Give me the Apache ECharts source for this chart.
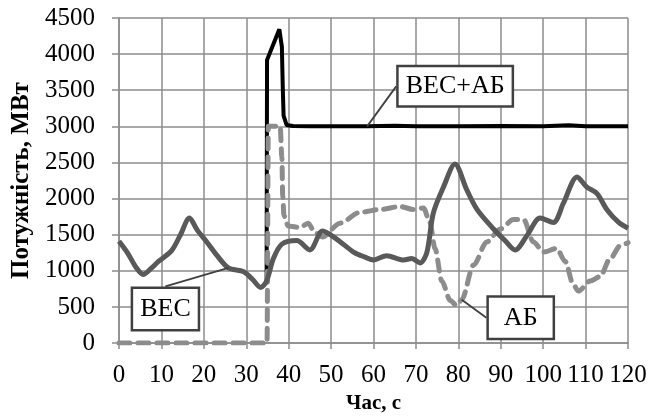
<!DOCTYPE html>
<html>
<head>
<meta charset="utf-8">
<script src="https://cdn.jsdelivr.net/npm/echarts@6/dist/echarts.min.js"></script>
<style>
	html, body { margin: 0; padding: 0; background: #fff; }
	#chart { width: 665px; height: 419px; }
</style>
</head>
<body>
<div id="chart"></div>
<script>
// Час, с / Потужність, МВт
var xTicks = { min: 0, max: 120, interval: 10 };
var yTicks = { min: 0, max: 4500, interval: 500 };

var vesData = [
	[0,1410],[2,1250],[4,1050],[5.7,950],[7.5,1030],[9.3,1130],[12.4,1280],[14.5,1500],
	[16.6,1730],[18.5,1560],[20.7,1400],[23,1220],[25.8,1040],[29.3,990],[31.5,880],
	[33.4,770],[34.8,860],[36.4,1170],[38.4,1370],[41.9,1420],[45,1290],[48,1550],
	[51.3,1440],[55.3,1260],[58,1190],[60,1150],[63.1,1210],[67.1,1150],[69,1170],
	[71,1110],[72.6,1260],[74.1,1800],[76.5,2160],[79.2,2480],[82,2120],[84.4,1850],
	[88.3,1580],[91,1420],[93.4,1290],[96.2,1490],[99.3,1730],[102.4,1670],[104.8,1940],
	[108,2300],[110.3,2160],[112.7,2070],[115,1850],[117.8,1670],[120,1590]
];
var abData = [
	[0,0],[34.9,0],[35.2,3000],[38,3000],[38.4,2570],[38.6,2030],[38.9,1760],[39.9,1620],
	[42.7,1600],[44.6,1660],[46.2,1530],[48,1470],[52.1,1660],[56.8,1810],[61.6,1850],
	[66.3,1890],[69.4,1850],[71.8,1870],[73.3,1670],[74.5,1310],[76.1,860],[78.1,590],
	[79.6,520],[80.8,600],[83.6,1080],[86.7,1400],[89.9,1580],[93,1710],[95.4,1710],
	[97.7,1400],[100.1,1260],[103.2,1310],[105.2,1130],[107.1,810],[108.3,720],[111.1,860],
	[113.4,920],[115.8,1170],[118.2,1350],[120,1390]
];
var sumData = [
	[34.8,860],[34.9,3920],[37.8,4345],[38.4,4100],[38.6,3560],[38.8,3150],[39.5,3020],
	[41,3005],[45,3000],[50,3000],[58.5,3000],[65,3010],[70,3000],[80,3000],[90,3005],
	[100,3000],[106,3015],[110,3000],[120,3000]
];
// точки, до яких прив'язані підписи
var vesLabelAt = 12, abLabelAt = 23, sumLabelAt = 10;

var dom = document.getElementById('chart');
var myChart = echarts.init(dom);

function withLabel(data, idx, padding) {
	return data.map(function (p, i) {
		if (i !== idx) return p;
		return { value: p, label: { show: true, padding: padding } };
	});
}

var boxLabel = {
	show: false,
	formatter: '{a}',
	position: 'inside',
	fontFamily: 'Liberation Serif',
	fontSize: 26,
	lineHeight: 26,
	color: '#000',
	backgroundColor: '#fff',
	borderColor: '#404040',
	borderWidth: 2.5
};
var leader = { show: true, lineStyle: { color: '#404040', width: 1.8 } };

var option = {
	animation: false,
	grid: { left: 119, right: 37, top: 18, bottom: 69 },
	xAxis: {
		type: 'value',
		min: xTicks.min, max: xTicks.max, interval: xTicks.interval,
		name: 'Час, с',
		nameLocation: 'middle',
		nameGap: 42,
		nameTextStyle: { fontFamily: 'Liberation Serif', fontSize: 21, fontWeight: 'bold', color: '#000' },
		axisLine: { lineStyle: { color: '#8c8c8c', width: 1.5 } },
		axisTick: { show: true, length: 6, lineStyle: { color: '#8c8c8c', width: 1.5 } },
		axisLabel: {
			margin: 20, fontFamily: 'Liberation Serif', fontSize: 25, color: '#000',
			formatter: function (v) { return String(v); }
		},
		splitLine: { show: true, lineStyle: { color: '#8c8c8c', width: 1.5 } }
	},
	yAxis: {
		type: 'value',
		min: yTicks.min, max: yTicks.max, interval: yTicks.interval,
		name: 'Потужність, МВт',
		nameLocation: 'middle',
		nameGap: 82,
		nameTextStyle: { fontFamily: 'Liberation Serif', fontSize: 25, fontWeight: 'bold', color: '#000' },
		axisLine: { show: true, lineStyle: { color: '#8c8c8c', width: 1.5 } },
		axisTick: { show: true, length: 7, lineStyle: { color: '#8c8c8c', width: 1.5 } },
		axisLabel: {
			margin: 24, fontFamily: 'Liberation Serif', fontSize: 25, color: '#000',
			formatter: function (v) { return String(v); }
		},
		splitLine: { show: true, lineStyle: { color: '#8c8c8c', width: 1.5 } }
	},
	series: [{
		name: 'ВЕС+АБ',
		type: 'line',
		smooth: false,
		symbol: 'circle',
		symbolSize: 0,
		showSymbol: true,
		lineStyle: { color: '#000', width: 4 },
		itemStyle: { color: '#000' },
		label: boxLabel,
		labelLine: leader,
		labelLayout: { dx: 88, dy: -40 },
		data: withLabel(sumData, sumLabelAt, [6, 7]),
		z: 2
	}, {
		name: 'АБ',
		type: 'line',
		smooth: 0.3,
		smoothMonotone: 'x',
		symbol: 'circle',
		symbolSize: 0,
		showSymbol: true,
		lineStyle: { color: '#8c8c8c', width: 5, type: [11, 8], cap: 'round' },
		itemStyle: { color: '#8c8c8c' },
		label: boxLabel,
		labelLine: leader,
		labelLayout: { dx: 59, dy: 18 },
		data: withLabel(abData, abLabelAt, [7, 15]),
		z: 3
	}, {
		name: 'ВЕС',
		type: 'line',
		smooth: 0.3,
		symbol: 'circle',
		symbolSize: 0,
		showSymbol: true,
		lineStyle: { color: '#595959', width: 5 },
		itemStyle: { color: '#595959' },
		label: boxLabel,
		labelLine: leader,
		labelLayout: { dx: -63, dy: 41 },
		data: withLabel(vesData, vesLabelAt, [7, 7]),
		z: 4
	}]
};
myChart.setOption(option, true);
</script>
</body>
</html>
